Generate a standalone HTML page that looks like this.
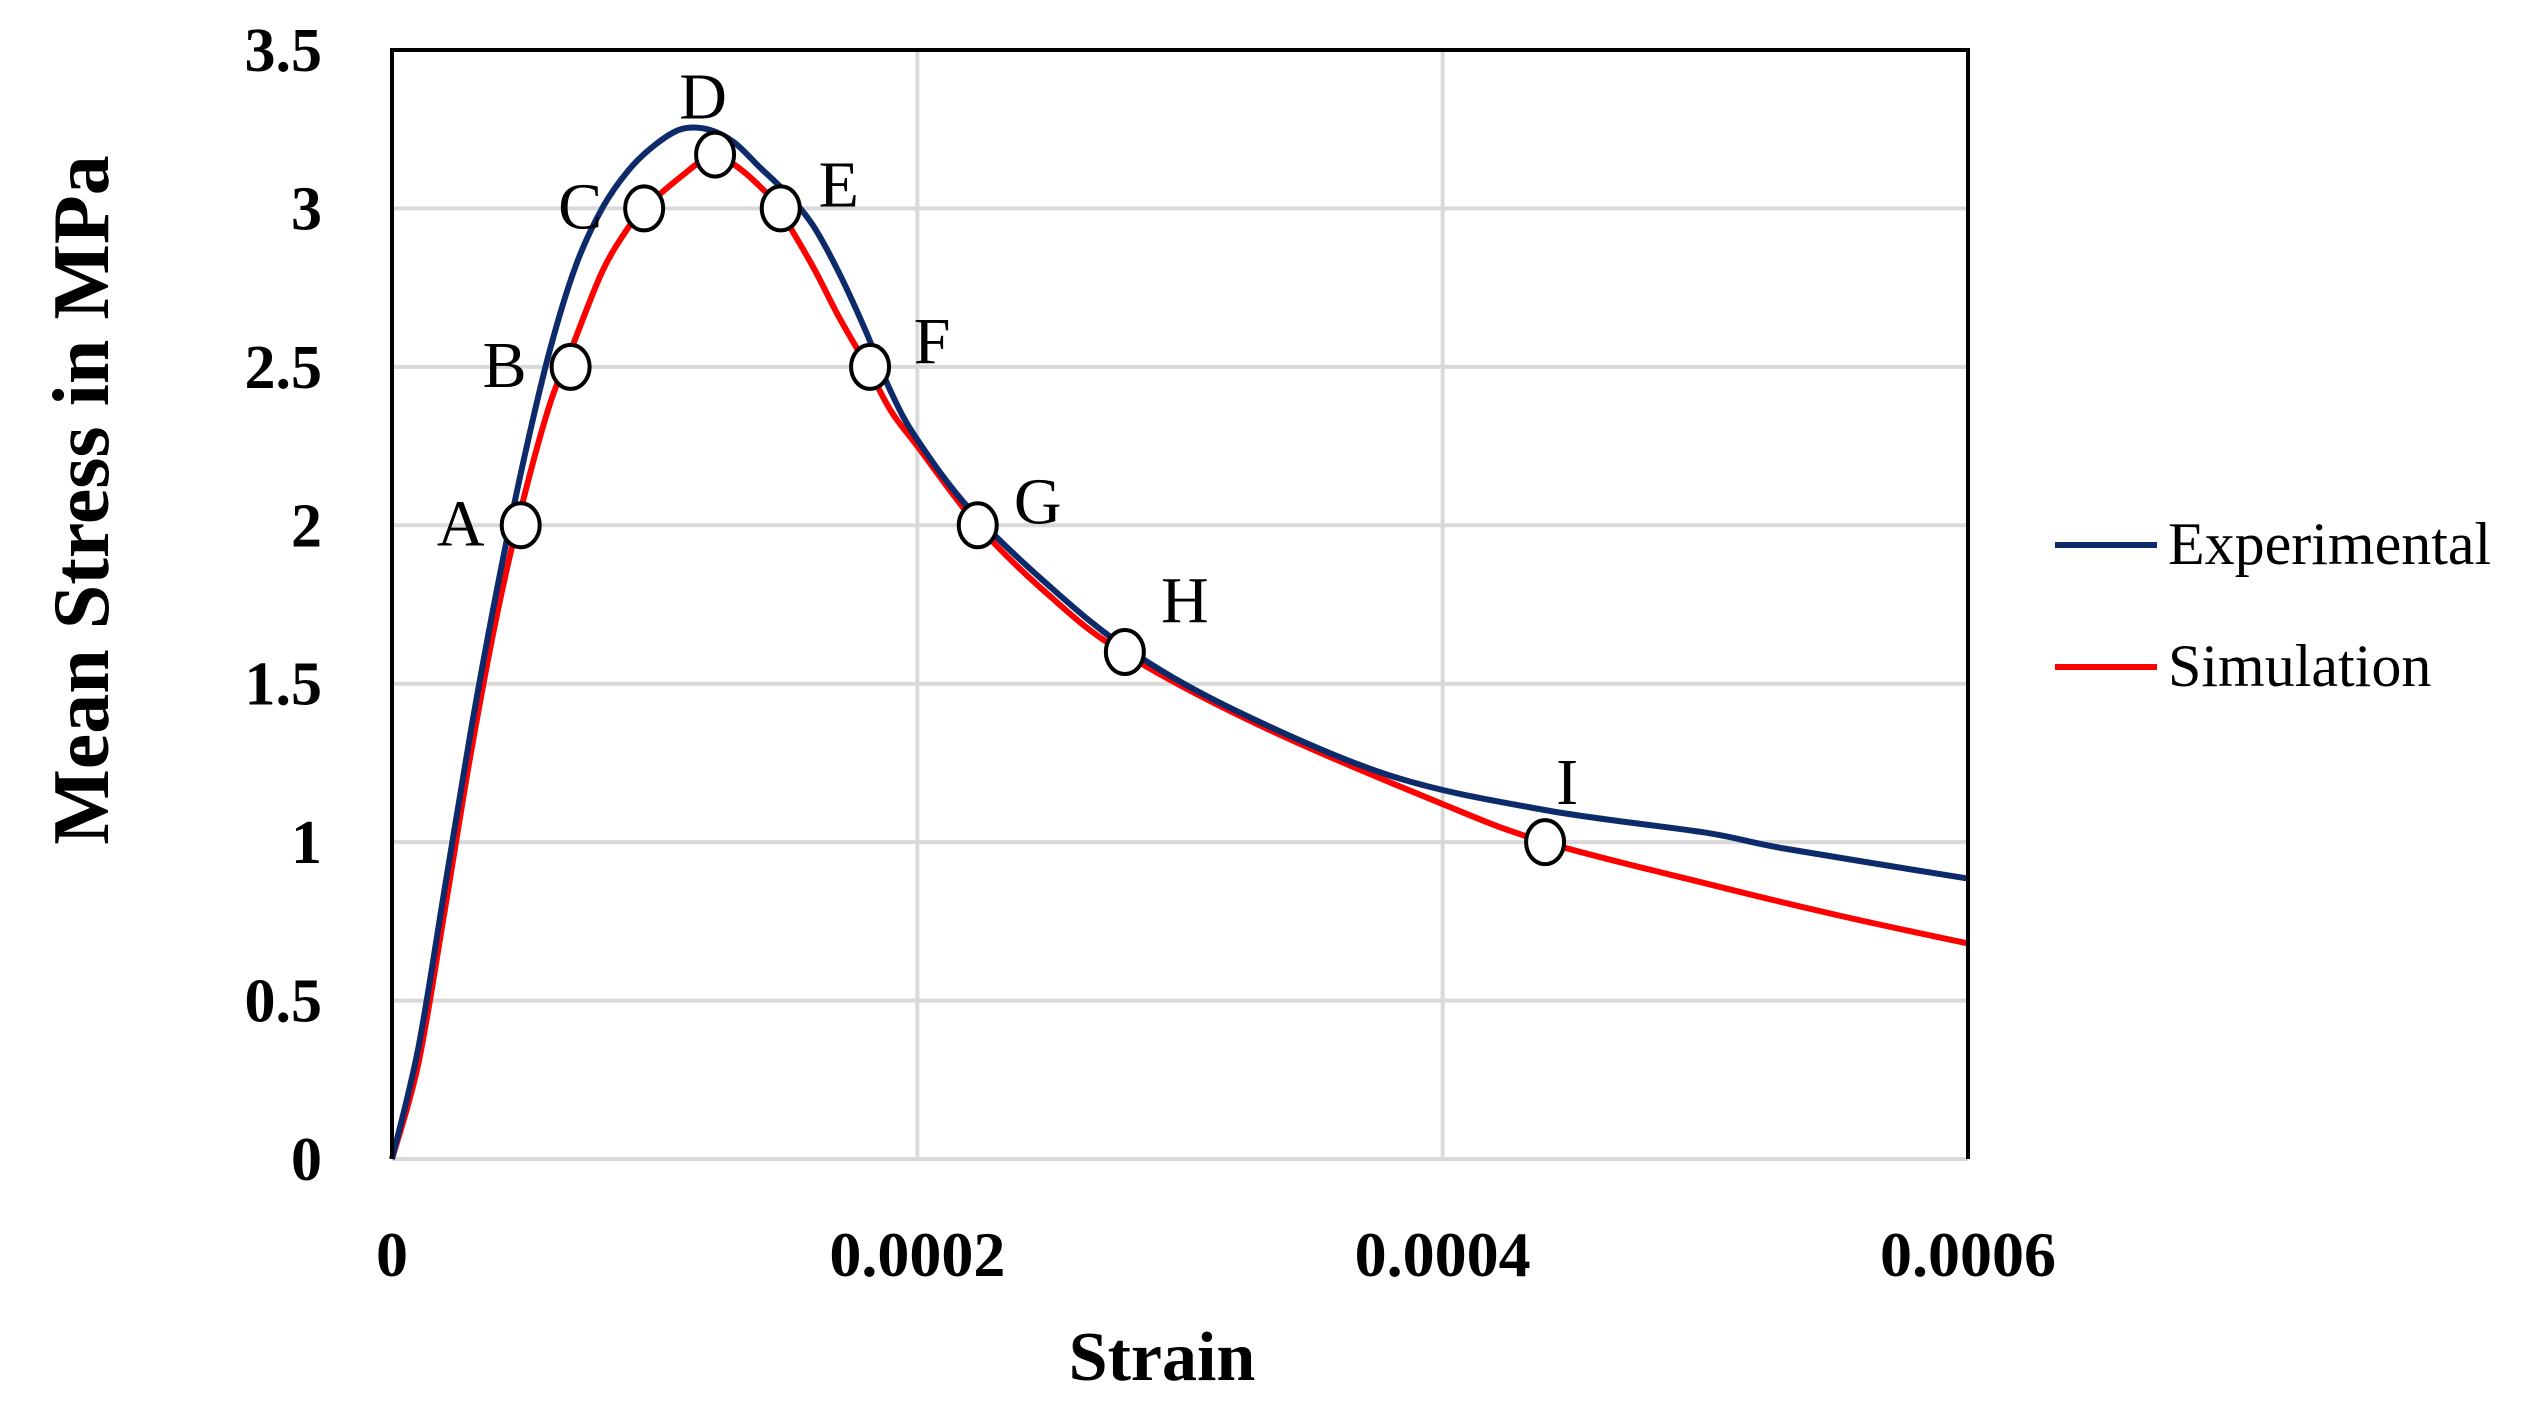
<!DOCTYPE html>
<html><head><meta charset="utf-8"><style>
html,body{margin:0;padding:0;background:#fff;}
svg{display:block;}
</style></head><body>
<svg id="chart" width="2527" height="1410" viewBox="0 0 2527 1410" xmlns="http://www.w3.org/2000/svg">
<g id="grid"></g>
<g id="series"></g>
<g id="frame"></g>
<g id="markers"></g>
<g id="axes"></g>
<text x="1162" y="1380" text-anchor="middle" font-family="Liberation Serif, serif" font-weight="bold" font-size="70">Strain</text>
<text transform="translate(108,500) rotate(-90)" text-anchor="middle" font-family="Liberation Serif, serif" font-weight="bold" font-size="80">Mean Stress in MPa</text>
<g>
  <g>
    <line x1="2055" y1="545" x2="2157" y2="545" stroke="#0d2a6b" stroke-width="6"/>
    <text x="2168" y="564" font-family="Liberation Serif, serif" font-size="60">Experimental</text>
  </g>
  <g>
    <line x1="2055" y1="667" x2="2157" y2="667" stroke="#ff0000" stroke-width="6"/>
    <text x="2168" y="686" font-family="Liberation Serif, serif" font-size="60">Simulation</text>
  </g>
</g>
</svg>
<script>
const expStrain=[0,0.00001,0.00002,0.00003,0.00004,0.00005,0.00006,0.00007,0.00008,0.00009,0.0001,0.00011,0.00012,0.00013,0.00014,0.00015,0.00016,0.00017,0.00018,0.00019,0.0002,0.00022,0.00025,0.00028,0.00032,0.00038,0.00044,0.0005,0.00053,0.0006];
const expStress=[0,0.35,0.85,1.35,1.8,2.2,2.55,2.82,3.0,3.12,3.2,3.25,3.25,3.21,3.13,3.05,2.95,2.8,2.62,2.42,2.27,2.05,1.81,1.61,1.42,1.21,1.1,1.03,0.98,0.885];
const simStrain=[0,0.00001,0.00002,0.00003,0.00004,0.00005,0.00006,0.000068,0.00008,0.00009,0.000096,0.00011,0.000122,0.00013,0.00014,0.000147,0.00016,0.00017,0.000181,0.00019,0.0002,0.000223,0.00025,0.000278,0.00033,0.0004,0.000439,0.0005,0.00055,0.0006];
const simStress=[0,0.3,0.78,1.28,1.72,2.08,2.38,2.55,2.8,2.94,3.0,3.1,3.17,3.14,3.07,3.0,2.82,2.66,2.5,2.36,2.25,2.0,1.78,1.6,1.37,1.12,1.0,0.87,0.77,0.68];
const ptLabels=["A","B","C","D","E","F","G","H","I"];
const ptStrain=[0.000049,0.000068,0.000096,0.000123,0.000148,0.000182,0.000223,0.000279,0.000439];
const ptStress=[2.0,2.5,3.0,3.17,3.0,2.5,2.0,1.6,1.0];
const lblDx=[-60,-66,-64,-12,58,62,60,60,22];
const lblDy=[20,20,20,-36,-2,-4,-2,-30,-38];
const yTicks=[0,0.5,1,1.5,2,2.5,3,3.5];
const yTickLabels=["0","0.5","1","1.5","2","2.5","3","3.5"];
const xTicks=[0,0.0002,0.0004,0.0006];
const xTickLabels=["0","0.0002","0.0004","0.0006"];

const L=392,R=1968,T=50,B=1159;
const X=v=>L+(v/0.0006)*(R-L);
const Y=v=>B-(v/3.5)*(B-T);
const NS="http://www.w3.org/2000/svg";
function mk(tag,parent,attrs){const e=document.createElementNS(NS,tag);for(const k in attrs)e.setAttribute(k,attrs[k]);parent.appendChild(e);return e;}
const grid=document.getElementById('grid'),series=document.getElementById('series'),frame=document.getElementById('frame'),markers=document.getElementById('markers'),axes=document.getElementById('axes');
yTicks.forEach((t,i)=>{
  const g=mk('line',grid,{x1:L,x2:R,y1:Y(t),y2:Y(t),stroke:'#d9d9d9','stroke-width':4});
  
  
  const tx=mk('text',axes,{x:322,y:Y(t)+21,'text-anchor':'end','font-family':'Liberation Serif, serif','font-weight':'bold','font-size':62});
  tx.textContent=yTickLabels[i];
  
  
});
xTicks.forEach((t,i)=>{
  if(i>0&&i<xTicks.length-1){
    const g=mk('line',grid,{x1:X(t),x2:X(t),y1:T,y2:B,stroke:'#d9d9d9','stroke-width':4});
    
    
  }
  const tx=mk('text',axes,{x:X(t),y:1276,'text-anchor':'middle','font-family':'Liberation Serif, serif','font-weight':'bold','font-size':64});
  tx.textContent=xTickLabels[i];
  
  
});
const fr=mk('path',frame,{d:`M${L},${B} L${L},${T} L${R},${T} L${R},${B}`,fill:'none',stroke:'#000','stroke-width':4});


function line(xs,ys,col,name){
  const P=xs.map((x,i)=>[X(x),Y(ys[i])]);
  let d='M'+P[0][0].toFixed(1)+','+P[0][1].toFixed(1);
  for(let i=0;i<P.length-1;i++){
    const p0=P[Math.max(0,i-1)],p1=P[i],p2=P[i+1],p3=P[Math.min(P.length-1,i+2)];
    const c1=[p1[0]+(p2[0]-p0[0])/6,p1[1]+(p2[1]-p0[1])/6];
    const c2=[p2[0]-(p3[0]-p1[0])/6,p2[1]-(p3[1]-p1[1])/6];
    d+=` C${c1[0].toFixed(1)},${c1[1].toFixed(1)} ${c2[0].toFixed(1)},${c2[1].toFixed(1)} ${p2[0].toFixed(1)},${p2[1].toFixed(1)}`;
  }
  const p=mk('path',series,{d:d,fill:'none',stroke:col,'stroke-width':6,'stroke-linejoin':'round'});
  
  
}
line(simStrain,simStress,'#ff0000','simulation-line');
line(expStrain,expStress,'#0d2a6b','experimental-line');
ptLabels.forEach((lb,i)=>{
  const cx=X(ptStrain[i]),cy=Y(ptStress[i]);
  const c=mk('ellipse',markers,{cx:cx,cy:cy,rx:19,ry:22,fill:'#fff',stroke:'#000','stroke-width':4});
  
  
  const t=mk('text',markers,{x:cx+lblDx[i],y:cy+lblDy[i],'text-anchor':'middle','font-family':'Liberation Serif, serif','font-size':66});
  t.textContent=lb;
  
  
});
</script>
</body></html>
